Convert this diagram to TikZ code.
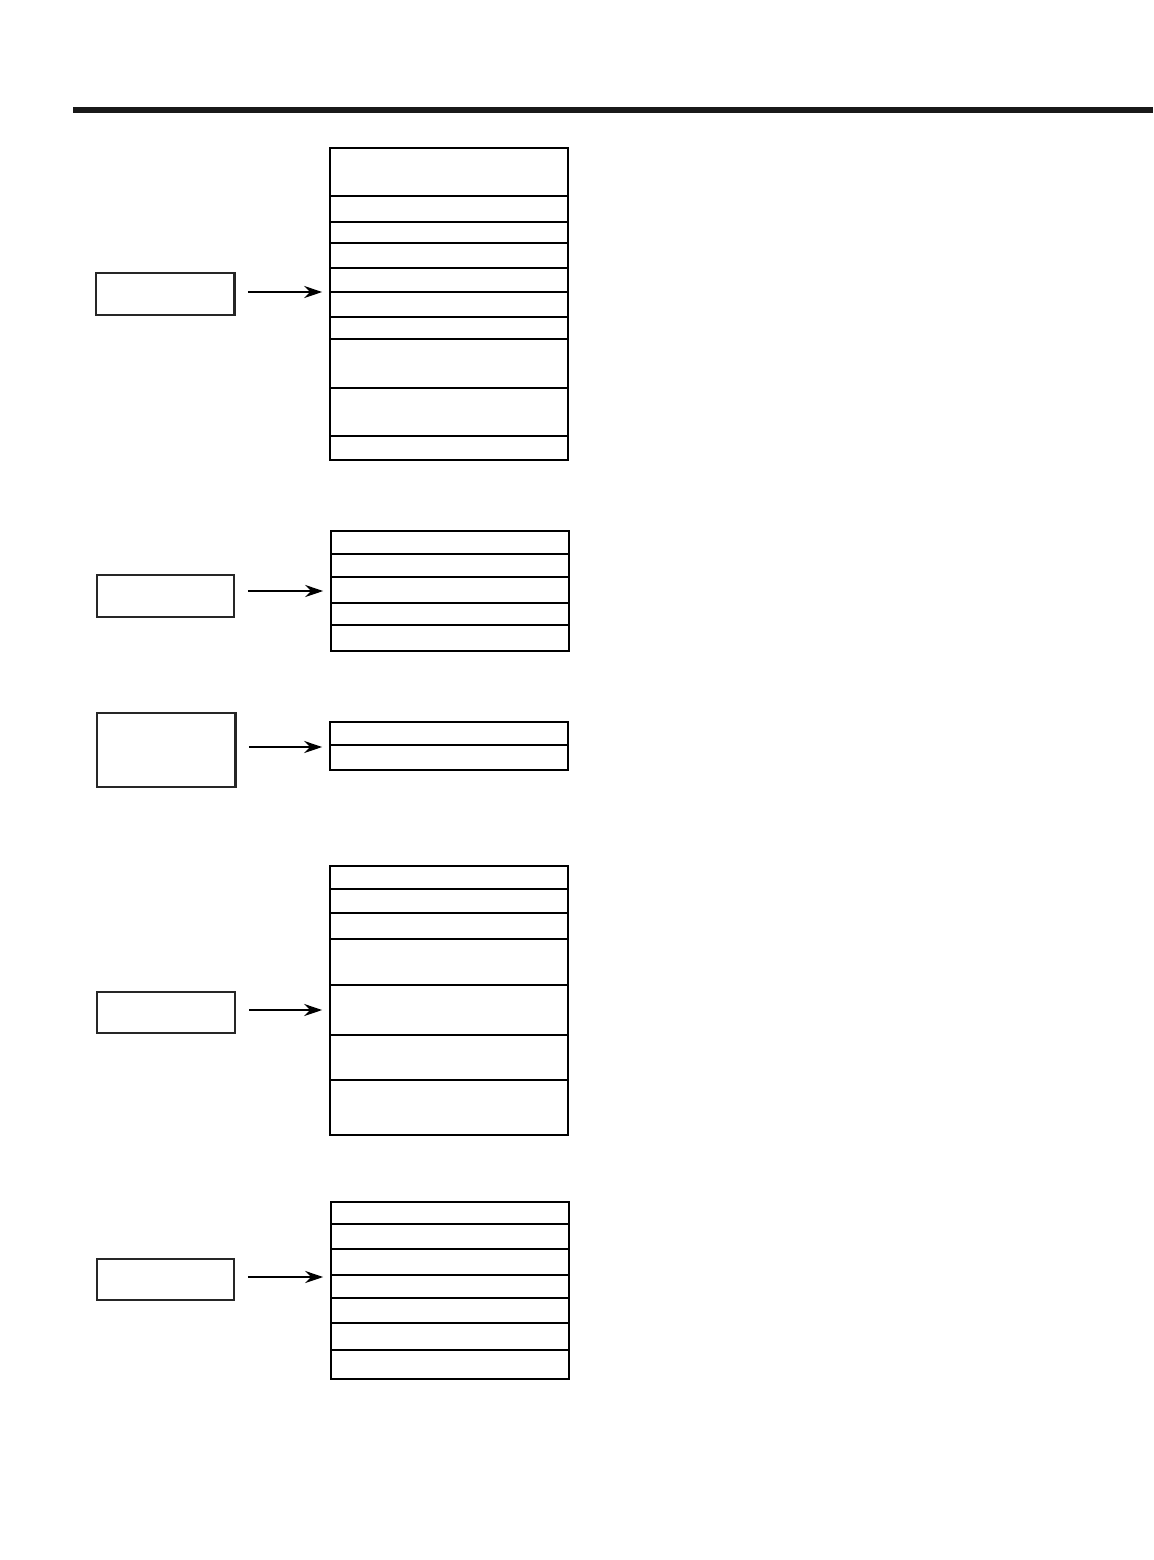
\documentclass[tikz,border=0pt]{standalone}
\usetikzlibrary{arrows.meta}
\begin{document}
\begin{tikzpicture}[x=0.5pt,y=-0.5pt,
  lbox/.style={draw=black!85, line width=0.8pt, inner sep=0pt, minimum width=69pt},
  rbox/.style={draw=black, line width=0.8pt, inner sep=0pt, minimum width=119pt},
  sep/.style={draw=black, line width=0.7pt},
  arr/.style={draw=black, line width=1.2pt, -{Stealth[length=9pt,width=6pt,inset=3pt]}, shorten <=6.5pt, shorten >=3.5pt}]
\useasboundingbox (0,0) rectangle (1153,1560);
% top rule
\fill[black!90] (73,107) rectangle (1153,113);

% group 1
\node[lbox, minimum height=21pt] (L1) at (165,294) {};
\draw[line width=1.3pt, black!85] (L1.north east) -- (L1.south east);
\node[rbox, minimum height=156pt] (R1) at (449,304) {};
\foreach \y in {196,222,243,268,292,317,339,388,436}
  \draw[sep] (R1.west |- 0,\y) -- (R1.east |- 0,\y);
\draw[arr] ([yshift=1pt]L1.east) -- ([yshift=1pt]L1.east -| R1.west);

% group 2
\node[lbox, minimum width=68.5pt, minimum height=21pt] (L2) at (165.5,596) {};
\node[rbox, minimum height=60pt] (R2) at (450,591) {};
\foreach \y in {554,577,603,625}
  \draw[sep] (R2.west |- 0,\y) -- (R2.east |- 0,\y);
\draw[arr] ([yshift=2.5pt]L2.east) -- ([yshift=2.5pt]L2.east -| R2.west);

% group 3
\node[lbox, minimum height=37pt] (L3) at (166,750) {};
\draw[line width=1.3pt, black!85] (L3.north east) -- (L3.south east);
\node[rbox, minimum height=24pt] (R3) at (449,746) {};
\draw[sep] (R3.west |- 0,745) -- (R3.east |- 0,745);
\draw[arr] ([yshift=1.5pt]L3.east) -- ([yshift=1.5pt]L3.east -| R3.west);

% group 4
\node[lbox, line width=1.2pt, minimum height=20.5pt] (L4) at (166,1012.5) {};
\node[rbox, minimum height=134.5pt] (R4) at (449,1000.5) {};
\foreach \y in {889,913,939,985,1035,1080}
  \draw[sep] (R4.west |- 0,\y) -- (R4.east |- 0,\y);
\draw[arr] ([yshift=1.25pt]L4.east) -- ([yshift=1.25pt]L4.east -| R4.west);

% group 5
\node[lbox, minimum width=68.5pt, minimum height=20.5pt] (L5) at (165.5,1279.5) {};
\node[rbox, minimum height=88.5pt] (R5) at (450,1290.5) {};
\foreach \y in {1224,1249,1275,1298,1323,1350}
  \draw[sep] (R5.west |- 0,\y) -- (R5.east |- 0,\y);
\draw[arr] ([yshift=1.25pt]L5.east) -- ([yshift=1.25pt]L5.east -| R5.west);
\end{tikzpicture}
\end{document}
